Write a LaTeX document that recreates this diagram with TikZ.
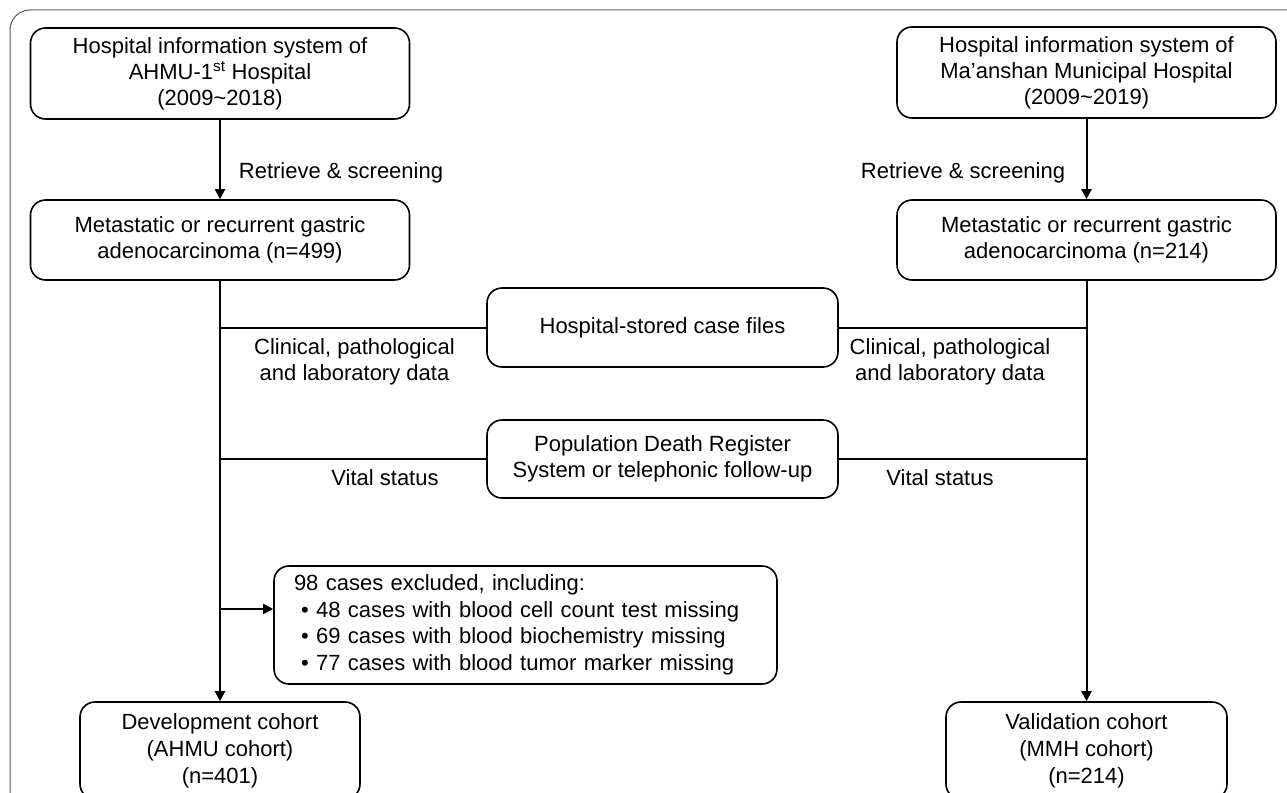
\documentclass[tikz,border=0pt]{standalone}
\usepackage{fontspec}
\setmainfont{Liberation Sans}
\usetikzlibrary{arrows.meta}
\begin{document}
\begin{tikzpicture}[x=1pt,y=-1pt,
  box/.style={draw, line width=1.6pt, rounded corners=15pt, align=center,
    font=\fontsize{22}{26}\selectfont, inner sep=0pt},
  lbl/.style={align=center, font=\fontsize{22}{26}\selectfont, inner sep=0pt},
  conn/.style={line width=2pt},
  arr/.style={line width=2pt, -{Triangle[length=10pt,width=10pt]}}]
\useasboundingbox (0,0) rectangle (1287,792);
\clip (0,0) rectangle (1287,792);
\draw[line width=1pt, draw=black!65, rounded corners=20pt] (10,820) -- (10,10) -- (1310,10);

\node[box, minimum width=379pt, minimum height=91pt] (topL) at (220,73.5)
  {Hospital information system of\\ AHMU-1\textsuperscript{st} Hospital\\ (2009\textasciitilde2018)};
\node[box, minimum width=379pt, minimum height=91pt] (topR) at (1086.5,72.5)
  {Hospital information system of\\ Ma’anshan Municipal Hospital\\ (2009\textasciitilde2019)};
\node[box, minimum width=379pt, minimum height=80pt] (metaL) at (220,240)
  {Metastatic or recurrent gastric\\ adenocarcinoma (n=499)};
\node[box, minimum width=379pt, minimum height=80pt] (metaR) at (1086.5,240)
  {Metastatic or recurrent gastric\\ adenocarcinoma (n=214)};
\node[box, minimum width=351pt, minimum height=79pt] (hsc) at (662.5,327.5)
  {Hospital-stored case files};
\node[box, minimum width=351pt, minimum height=78pt] (pdr) at (662.5,459)
  {Population Death Register\\ System or telephonic follow-up};
\node[box, minimum width=503pt, minimum height=118pt, align=left, text width=463pt,
  inner xsep=20pt, font=\fontsize{22}{26.5}\selectfont] (excl) at (525.5,625)
  {98 cases excluded, including:\\
   \hspace*{7pt}• 48 cases with blood cell count test missing\\
   \hspace*{7pt}• 69 cases with blood biochemistry missing\\
   \hspace*{7pt}• 77 cases with blood tumor marker missing};
\node[box, minimum width=280pt, minimum height=97pt, font=\fontsize{22}{27}\selectfont] (dev) at (220,750.5)
  {Development cohort\\ (AHMU cohort)\\ (n=401)};
\node[box, minimum width=281pt, minimum height=97pt, font=\fontsize{22}{27}\selectfont] (val) at (1086.5,750.5)
  {Validation cohort\\ (MMH cohort)\\ (n=214)};

\node[lbl] (retL) at (341,173) {Retrieve \& screening};
\node[lbl] (retR) at (963,173) {Retrieve \& screening};
\node[lbl] (clinL) at (354.5,362) {Clinical, pathological\\ and laboratory data};
\node[lbl] (clinR) at (950,362) {Clinical, pathological\\ and laboratory data};
\node[lbl] (vitL) at (385,478) {Vital status};
\node[lbl] (vitR) at (940,478) {Vital status};

\draw[arr] (topL.south) -- (metaL.north);
\draw[arr] (topR.south) -- (metaR.north);
\draw[arr] (metaL.south) -- (dev.north);
\draw[arr] (metaR.south) -- (val.north);
\draw[conn] (hsc.west) -- (hsc.west -| metaL.south);
\draw[conn] (hsc.east) -- (hsc.east -| metaR.south);
\draw[conn] (pdr.west) -- (pdr.west -| metaL.south);
\draw[conn] (pdr.east) -- (pdr.east -| metaR.south);
\coordinate (exf) at (220,609);
\draw[arr] (exf) -- (exf -| excl.west);
\end{tikzpicture}
\end{document}
